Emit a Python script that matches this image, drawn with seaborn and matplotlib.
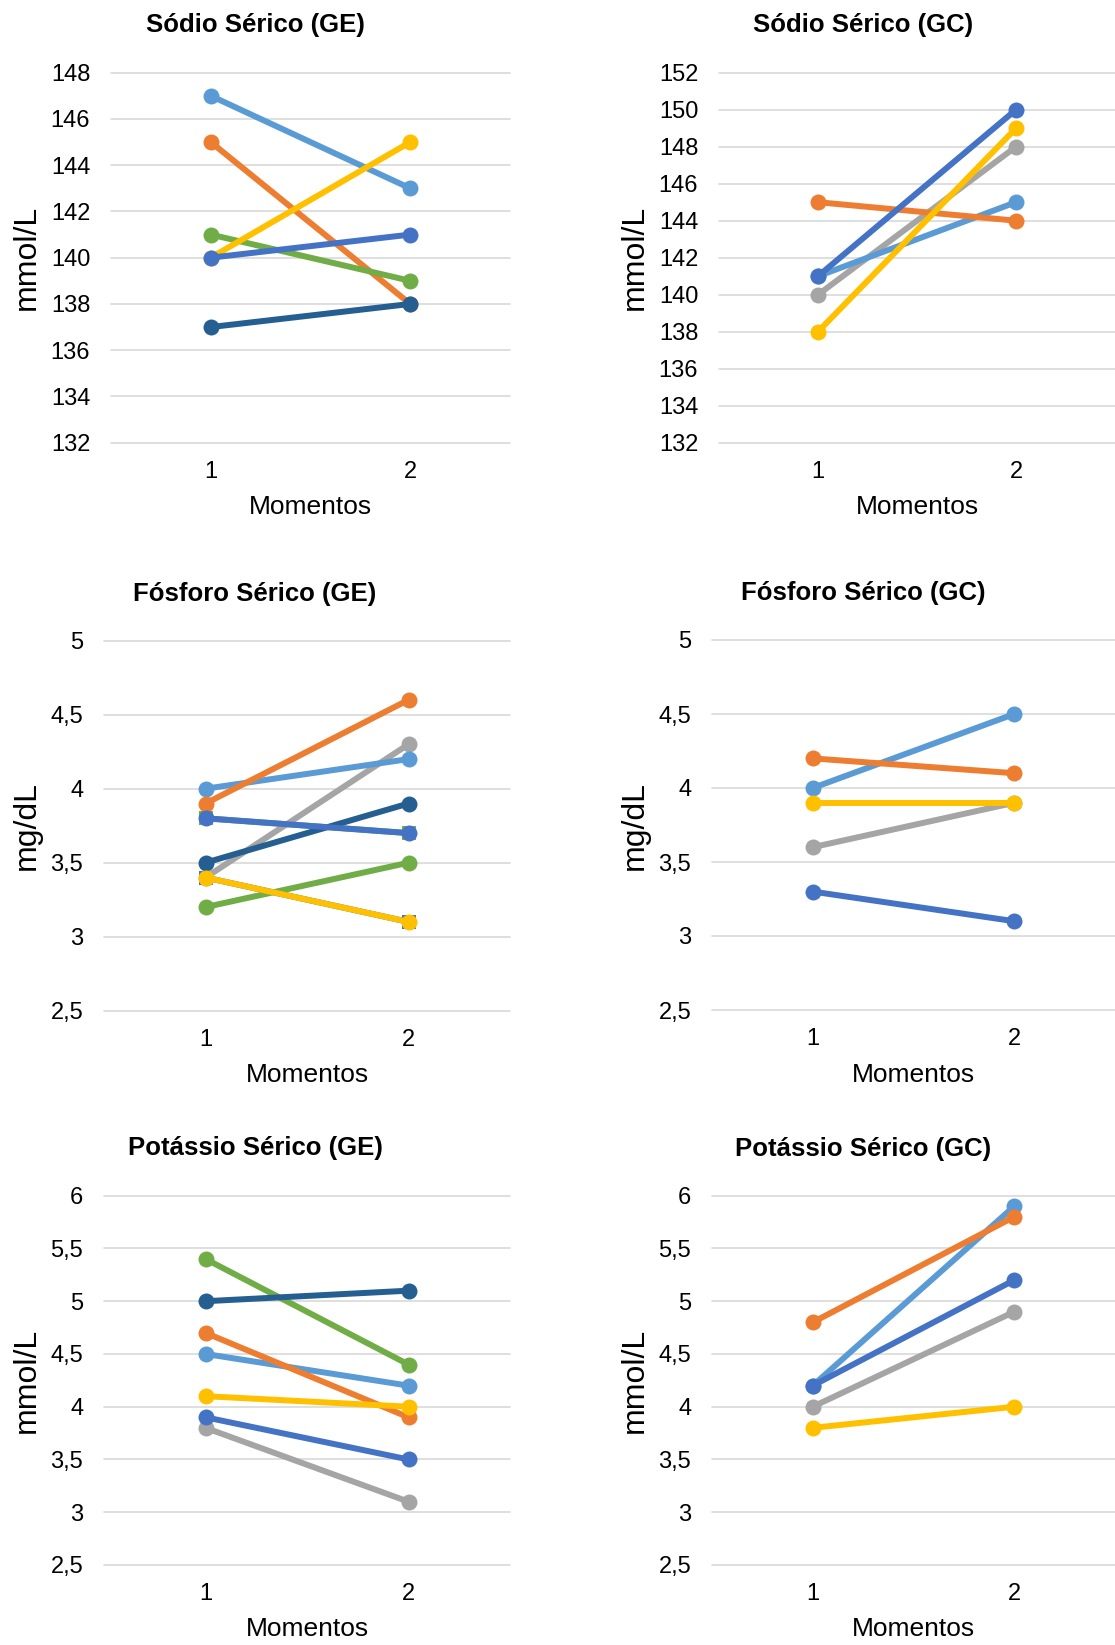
import matplotlib
matplotlib.use("Agg")
import matplotlib.pyplot as plt
from matplotlib.ticker import FuncFormatter, MultipleLocator
import seaborn as sns
import pandas as pd

sns.set_theme(style="white")
plt.rcParams['font.family'] = ['Liberation Sans', 'DejaVu Sans']

# ---------------- data ----------------
momentos = [1, 2]

# Sódio Sérico (GE)
sodio_ge_cinza = None
sodio_ge_azul_claro = [147, 143]
sodio_ge_laranja = [145, 138]
sodio_ge_verde = [141, 139]
sodio_ge_azul_escuro = [137, 138]
sodio_ge_amarelo = [140, 145]
sodio_ge_azul = [140, 141]

# Sódio Sérico (GC)
sodio_gc_cinza = [140, 148]
sodio_gc_azul_claro = [141, 145]
sodio_gc_laranja = [145, 144]
sodio_gc_amarelo = [138, 149]
sodio_gc_azul = [141, 150]

# Fósforo Sérico (GE)
fosforo_ge_cinza = [3.4, 4.3]
fosforo_ge_azul_claro = [4.0, 4.2]
fosforo_ge_laranja = [3.9, 4.6]
fosforo_ge_verde = [3.2, 3.5]
fosforo_ge_azul_escuro = [3.5, 3.9]
fosforo_ge_amarelo = [3.4, 3.1]
fosforo_ge_azul = [3.8, 3.7]
# hidden square-marker series (only corners visible)
fosforo_ge_quad_azul = [3.4, 3.1]
fosforo_ge_quad_verde = [3.8, 3.7]

# Fósforo Sérico (GC)
fosforo_gc_cinza = [3.6, 3.9]
fosforo_gc_azul_claro = [4.0, 4.5]
fosforo_gc_laranja = [4.2, 4.1]
fosforo_gc_amarelo = [3.9, 3.9]
fosforo_gc_azul = [3.3, 3.1]

# Potássio Sérico (GE)
potassio_ge_cinza = [3.8, 3.1]
potassio_ge_azul_claro = [4.5, 4.2]
potassio_ge_laranja = [4.7, 3.9]
potassio_ge_verde = [5.4, 4.4]
potassio_ge_azul_escuro = [5.0, 5.1]
potassio_ge_amarelo = [4.1, 4.0]
potassio_ge_azul = [3.9, 3.5]

# Potássio Sérico (GC)
potassio_gc_cinza = [4.0, 4.9]
potassio_gc_azul_claro = [4.2, 5.9]
potassio_gc_laranja = [4.8, 5.8]
potassio_gc_amarelo = [3.8, 4.0]
potassio_gc_azul = [4.2, 5.2]

titles = ["Sódio Sérico (GE)", "Sódio Sérico (GC)",
          "Fósforo Sérico (GE)", "Fósforo Sérico (GC)",
          "Potássio Sérico (GE)", "Potássio Sérico (GC)"]
ylabels = ["mmol/L", "mmol/L", "mg/dL", "mg/dL", "mmol/L", "mmol/L"]
xlabel = "Momentos"

colors = {
    "cinza": "#A5A5A5",
    "azul_claro": "#5B9BD5",
    "laranja": "#ED7D31",
    "verde": "#70AD47",
    "azul_escuro": "#255E91",
    "amarelo": "#FFC000",
    "azul": "#4472C4",
}
order = ["cinza", "azul_claro", "laranja", "verde", "azul_escuro", "amarelo", "azul"]

panels = [
    {"cinza": sodio_ge_cinza, "azul_claro": sodio_ge_azul_claro, "laranja": sodio_ge_laranja,
     "verde": sodio_ge_verde, "azul_escuro": sodio_ge_azul_escuro, "amarelo": sodio_ge_amarelo,
     "azul": sodio_ge_azul},
    {"cinza": sodio_gc_cinza, "azul_claro": sodio_gc_azul_claro, "laranja": sodio_gc_laranja,
     "amarelo": sodio_gc_amarelo, "azul": sodio_gc_azul},
    {"cinza": fosforo_ge_cinza, "azul_claro": fosforo_ge_azul_claro, "laranja": fosforo_ge_laranja,
     "verde": fosforo_ge_verde, "azul_escuro": fosforo_ge_azul_escuro, "amarelo": fosforo_ge_amarelo,
     "azul": fosforo_ge_azul},
    {"cinza": fosforo_gc_cinza, "azul_claro": fosforo_gc_azul_claro, "laranja": fosforo_gc_laranja,
     "amarelo": fosforo_gc_amarelo, "azul": fosforo_gc_azul},
    {"cinza": potassio_ge_cinza, "azul_claro": potassio_ge_azul_claro, "laranja": potassio_ge_laranja,
     "verde": potassio_ge_verde, "azul_escuro": potassio_ge_azul_escuro, "amarelo": potassio_ge_amarelo,
     "azul": potassio_ge_azul},
    {"cinza": potassio_gc_cinza, "azul_claro": potassio_gc_azul_claro, "laranja": potassio_gc_laranja,
     "amarelo": potassio_gc_amarelo, "azul": potassio_gc_azul},
]
ylims = [(132, 148, 2), (132, 152, 2), (2.5, 5, 0.5), (2.5, 5, 0.5), (2.5, 6, 0.5), (2.5, 6, 0.5)]

# ---------------- layout (pixels) ----------------
W, H = 1115, 1645
# left, top, right, bottom in pixels
boxes = [
    (111, 72.7, 510, 442.7),
    (719, 72.7, 1115, 442.7),
    (104, 640.7, 510, 1010.7),
    (712, 640.0, 1115, 1010.0),
    (104, 1195.7, 510, 1565),
    (712, 1195.7, 1115, 1565),
]
title_pos = [(255, 25), (863, 25), (255, 594), (863, 593), (255, 1148), (863, 1149)]
ylabel_x = [27, 635, 27, 635, 27, 635]

fig = plt.figure(figsize=(W / 100, H / 100), dpi=100)
fmt = FuncFormatter(lambda v, p: ("%g" % v).replace(".", ","))

LW = 4.3
MS = 11.5

for i, (box, data) in enumerate(zip(boxes, panels)):
    l, t, r, b = box
    ax = fig.add_axes([l / W, 1 - b / H, (r - l) / W, (b - t) / H])

    if i == 2:
        sq = pd.DataFrame({
            "Momento": momentos * 2,
            "valor": fosforo_ge_quad_azul + fosforo_ge_quad_verde,
            "serie": ["qa"] * 2 + ["qv"] * 2,
        })
        sns.lineplot(data=sq, x="Momento", y="valor", hue="serie",
                     palette={"qa": colors["azul"], "qv": colors["verde"]},
                     marker="s", markersize=10.0, markeredgewidth=0, linewidth=LW,
                     legend=False, ax=ax)

    rows = []
    present = [k for k in order if data.get(k) is not None]
    for k in present:
        for m, v in zip(momentos, data[k]):
            rows.append({"Momento": m, "valor": v, "serie": k})
    df = pd.DataFrame(rows)
    sns.lineplot(data=df, x="Momento", y="valor", hue="serie", hue_order=present,
                 palette=colors, marker="o", markersize=MS, markeredgewidth=0,
                 linewidth=LW, legend=False, ax=ax)

    y0, y1, st = ylims[i]
    ax.set_ylim(y0, y1)
    ax.yaxis.set_major_locator(MultipleLocator(st))
    ax.yaxis.set_major_formatter(fmt)
    ax.set_xlim(0.5, 2.5)
    ax.set_xticks(momentos)
    ax.set_xticklabels([str(m) for m in momentos])
    ax.grid(axis="y", color="#D9D9D9", linewidth=1.2)
    ax.grid(axis="x", visible=False)
    ax.set_axisbelow(True)
    for s in ax.spines.values():
        s.set_visible(False)
    ax.tick_params(axis="both", length=0, labelsize=17, colors="#000000")
    ax.tick_params(axis="y", pad=15)
    ax.tick_params(axis="x", pad=13)
    for g in ax.get_ygridlines():
        g.set_clip_on(False)

    ax.set_xlabel(xlabel, fontsize=19, color="#000000", va="center")
    ax.xaxis.set_label_coords(0.5, -64.5 / (b - t))
    ax.set_ylabel(ylabels[i], fontsize=23, color="#000000", va="center")
    ax.yaxis.set_label_coords((ylabel_x[i] - l) / (r - l), 0.5)

    tx, ty = title_pos[i]
    fig.text(tx / W, 1 - ty / H, titles[i], ha="center", va="center",
             fontsize=18.5, fontweight="bold", color="#000000")

fig.savefig("out.png", dpi=100, facecolor="white")
